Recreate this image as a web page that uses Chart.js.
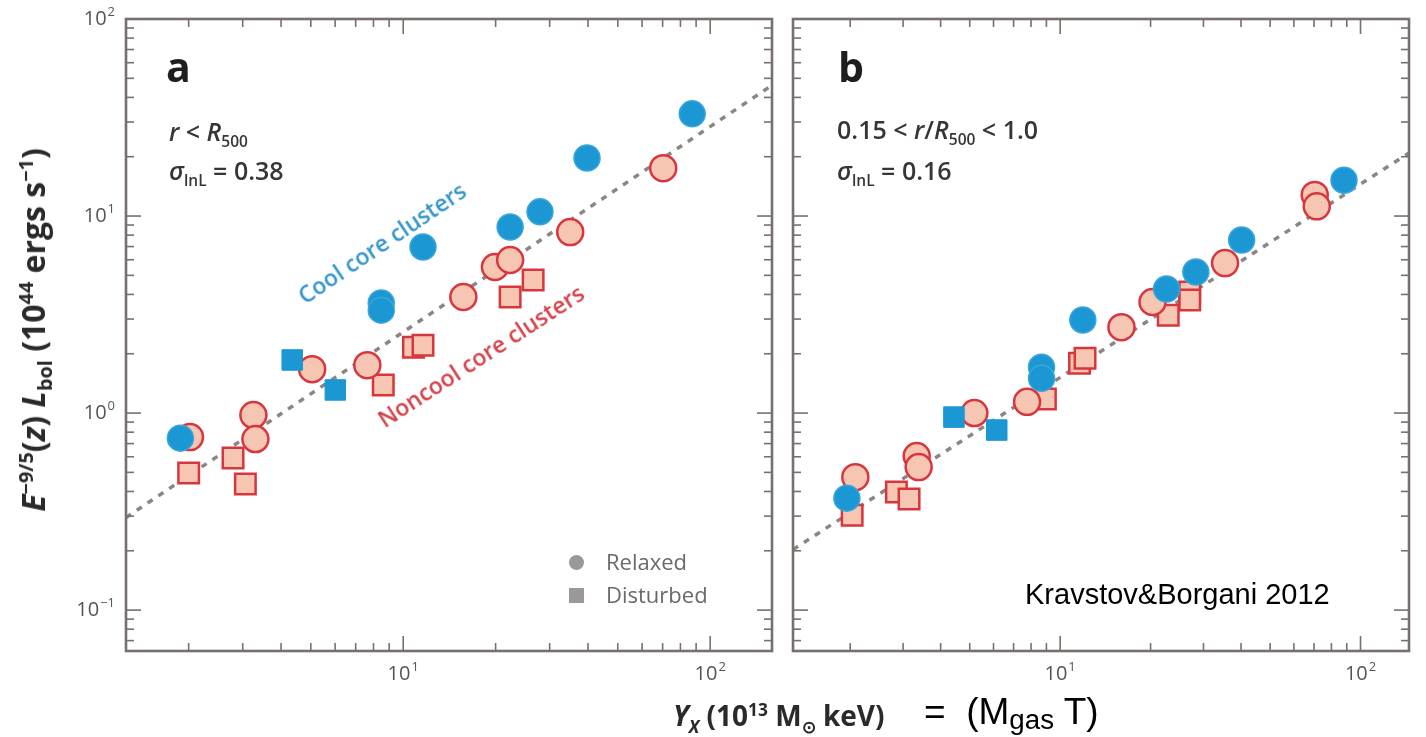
<!DOCTYPE html>
<html>
<head>
<meta charset="utf-8">
<script src="https://cdn.jsdelivr.net/npm/chart.js@4.4.1/dist/chart.umd.min.js"></script>
<style>
  body { margin: 0; background: #fff; }
  #wrap { position: relative; width: 1426px; height: 737px; overflow: hidden; background: #fff; }
  canvas { position: absolute; left: 0; top: 0; }
  .t { position: absolute; white-space: nowrap; font-family: "Open Sans", sans-serif; color: #363636; line-height: 1; }
  .t sub, .t sup { font-size: 0.62em; line-height: 0; }
  .lbl { font-weight: 600; font-size: 25px; }
  .panel { font-weight: 700; font-size: 41px; color: #1e1e1e; }
  .arial { font-family: "Liberation Sans", Arial, sans-serif; color: #000; }
  .key { position: absolute; background: #9c9898; width: 15px; height: 15px; }
</style>
</head>
<body>
<div id="wrap">
  <canvas id="chartA" width="1426" height="737"></canvas>
  <canvas id="chartB" width="1426" height="737"></canvas>

  <div class="t panel" style="left:166px; top:46px;">a</div>
  <div class="t panel" style="left:838px; top:46px;">b</div>

  <div class="t lbl" style="left:169px; top:119px;"><i>r</i> &lt; <i>R</i><sub>500</sub></div>
  <div class="t lbl" style="left:169px; top:158px;"><i>σ</i><sub>lnL</sub> = 0.38</div>
  <div class="t lbl" style="left:837px; top:117px;">0.15 &lt; <i>r</i>/<i>R</i><sub>500</sub> &lt; 1.0</div>
  <div class="t lbl" style="left:837px; top:158px;"><i>σ</i><sub>lnL</sub> = 0.16</div>

  <div class="t" style="left:382px; top:243px; font-size:23px; font-weight:600; color:#3596cc; transform:translate(-50%,-50%) rotate(-34deg);">Cool core clusters</div>
  <div class="t" style="left:481px; top:356px; font-size:23px; font-weight:600; color:#d6434b; transform:translate(-50%,-50%) rotate(-33deg);">Noncool core clusters</div>

  <div class="key" style="left:569px; top:555px; border-radius:50%;"></div>
  <div class="t" style="left:606px; top:550px; font-size:22px; color:#6a6a6a;">Relaxed</div>
  <div class="key" style="left:569px; top:588px;"></div>
  <div class="t" style="left:606px; top:583px; font-size:22px; color:#6a6a6a;">Disturbed</div>

  <div class="t arial" style="left:1025px; top:580px; font-size:29px;">Kravstov&amp;Borgani 2012</div>

  <div class="t" style="left:33px; top:330px; font-size:32px; font-weight:700; color:#2a2a2a; transform:translate(-50%,-50%) rotate(-90deg);"><i>E</i><sup>−9/5</sup>(<i>z</i>) <i>L</i><sub>bol</sub> (10<sup>44</sup> ergs s<sup>−1</sup>)</div>
  <div class="t" style="left:673px; top:701px; font-size:28px; font-weight:700; color:#2a2a2a;"><i>Y<sub>X</sub></i> (10<sup>13</sup> M<sub>⊙</sub> keV)</div>
  <div class="t arial" style="left:924px; top:693px; font-size:37px;">=&nbsp; (M<span style="font-size:0.75em; position:relative; top:0.18em;">gas</span> T)</div>
</div>

<script>
// panel a: r < R500
const aCoolRelX = [1.88, 8.48, 8.48, 11.6, 22.3, 27.9, 39.7, 87.4];
const aCoolRelY = [0.746, 3.62, 3.33, 6.96, 8.8, 10.5, 19.7, 33.0];
const aCoolDisX = [4.35, 6.01];
const aCoolDisY = [1.86, 1.31];
const aNonRelX = [2.02, 3.25, 3.30, 5.05, 7.64, 15.7, 19.9, 22.3, 35.0, 70.3];
const aNonRelY = [0.755, 0.977, 0.738, 1.67, 1.75, 3.88, 5.51, 5.98, 8.29, 17.5];
const aNonDisX = [2.0, 2.79, 3.06, 8.61, 10.8, 11.6, 22.3, 26.5];
const aNonDisY = [0.496, 0.591, 0.436, 1.39, 2.16, 2.21, 3.88, 4.73];
const aFitX = [1.25, 159];
const aFitY = [0.295, 46.1];

// panel b: 0.15 < r/R500 < 1.0
const bCoolRelX = [1.95, 8.67, 8.67, 11.9, 22.6, 28.3, 40.2, 88.1];
const bCoolRelY = [0.370, 1.71, 1.50, 2.97, 4.26, 5.2, 7.55, 15.2];
const bCoolDisX = [4.43, 6.15];
const bCoolDisY = [0.954, 0.82];
const bNonRelX = [2.08, 3.33, 3.38, 5.18, 7.76, 16.0, 20.3, 35.4, 70.4, 71.5];
const bNonRelY = [0.473, 0.605, 0.532, 1.0, 1.14, 2.73, 3.66, 5.77, 12.8, 11.2];
const bNonDisX = [2.03, 2.85, 3.14, 8.93, 11.6, 12.1, 22.9, 27.0, 27.0];
const bNonDisY = [0.303, 0.397, 0.366, 1.18, 1.79, 1.90, 3.14, 4.11, 3.75];
const bFitX = [1.29, 145];
const bFitY = [0.203, 20.9];

const decadeLabels = {'-1': '−1', '0': '0', '1': '1', '2': '2'};

const blue = '#1b97d4';
const redLine = '#d8363e';
const redFill = '#f7c6b2';

function pairs(xs, ys) {
    const out = [];
    for (let i = 0; i < xs.length; i++) out.push({x: xs[i], y: ys[i]});
    return out;
}

// frame with inward log ticks on all four sides, plus decade labels
const frame = {
    id: 'frame',
    afterDatasetsDraw(chart, args, opts) {
        const ctx = chart.ctx, a = chart.chartArea;
        const sx = chart.scales.x, sy = chart.scales.y;
        const seg = (x1, y1, x2, y2) => { ctx.beginPath(); ctx.moveTo(x1, y1); ctx.lineTo(x2, y2); ctx.stroke(); };
        const inside = (v, s) => v >= s.min * 0.999 && v <= s.max * 1.001;
        ctx.save();
        ctx.strokeStyle = '#77706d';
        ctx.lineWidth = 1.6;
        for (let e = -2; e <= 3; e++) {
            for (let m = 1; m <= 9; m++) {
                const v = m * Math.pow(10, e);
                const len = m === 1 ? 15 : 8;
                if (inside(v, sx)) {
                    const p = sx.getPixelForValue(v);
                    seg(p, a.bottom, p, a.bottom - len);
                    seg(p, a.top, p, a.top + len);
                }
                if (inside(v, sy)) {
                    const p = sy.getPixelForValue(v);
                    seg(a.left, p, a.left + len, p);
                    seg(a.right, p, a.right - len, p);
                }
            }
        }
        ctx.lineWidth = 2.6;
        ctx.strokeRect(a.left, a.top, a.right - a.left, a.bottom - a.top);

        ctx.fillStyle = '#555';
        ctx.textBaseline = 'middle';
        const big = '20px "Open Sans"', small = '13px "Open Sans"';
        const label = (exp, cx, cy, align) => {
            ctx.font = big; const w1 = ctx.measureText('10').width;
            ctx.font = small; const w2 = ctx.measureText(exp).width;
            const left = align === 'right' ? cx - w1 - w2 - 1 : cx - (w1 + w2 + 1) / 2;
            ctx.font = big; ctx.textAlign = 'left'; ctx.fillText('10', left, cy);
            ctx.font = small; ctx.fillText(exp, left + w1 + 1, cy - 7);
        };
        for (let e = -1; e <= 2; e++) {
            const v = Math.pow(10, e);
            if (inside(v, sx)) label(decadeLabels[e], sx.getPixelForValue(v), a.bottom + 23, 'center');
            if (opts.yLabels && inside(v, sy)) label(decadeLabels[e], a.left - 11, sy.getPixelForValue(v), 'right');
        }
        ctx.restore();
    }
};

function makePanel(id, d, pad, xmin, xmax, yLabels) {
    return new Chart(document.getElementById(id), {
        type: 'scatter',
        data: {
            datasets: [
                { type: 'line', data: pairs(d.fitX, d.fitY), borderColor: '#8d8582', borderWidth: 3.5,
                  borderDash: [6, 7], pointRadius: 0, fill: false, order: 5 },
                { data: pairs(d.ndX, d.ndY), pointStyle: 'rect', pointRadius: 14.5,
                  backgroundColor: redFill, borderColor: redLine, borderWidth: 2.5, order: 4 },
                { data: pairs(d.nrX, d.nrY), pointStyle: 'circle', pointRadius: 13,
                  backgroundColor: redFill, borderColor: redLine, borderWidth: 2.5, order: 3 },
                { data: pairs(d.cdX, d.cdY), pointStyle: 'rect', pointRadius: 14.5,
                  backgroundColor: blue, borderColor: blue, borderWidth: 1, order: 2 },
                { data: pairs(d.crX, d.crY), pointStyle: 'circle', pointRadius: 13,
                  backgroundColor: blue, borderColor: '#3aa6da', borderWidth: 1.5, order: 1 }
            ]
        },
        options: {
            responsive: false,
            animation: false,
            layout: { padding: pad },
            scales: {
                x: { type: 'logarithmic', min: xmin, max: xmax, display: false },
                y: { type: 'logarithmic', min: 0.062, max: 100, display: false }
            },
            plugins: { legend: { display: false }, tooltip: { enabled: false }, frame: { yLabels: yLabels } }
        },
        plugins: [frame]
    });
}

makePanel('chartA', {
    crX: aCoolRelX, crY: aCoolRelY, cdX: aCoolDisX, cdY: aCoolDisY,
    nrX: aNonRelX, nrY: aNonRelY, ndX: aNonDisX, ndY: aNonDisY, fitX: aFitX, fitY: aFitY
}, {left: 126, top: 19, right: 654, bottom: 86}, 1.25, 159, true);

makePanel('chartB', {
    crX: bCoolRelX, crY: bCoolRelY, cdX: bCoolDisX, cdY: bCoolDisY,
    nrX: bNonRelX, nrY: bNonRelY, ndX: bNonDisX, ndY: bNonDisY, fitX: bFitX, fitY: bFitY
}, {left: 793, top: 19, right: 0, bottom: 86}, 1.29, 145, false);
</script>
</body>
</html>
